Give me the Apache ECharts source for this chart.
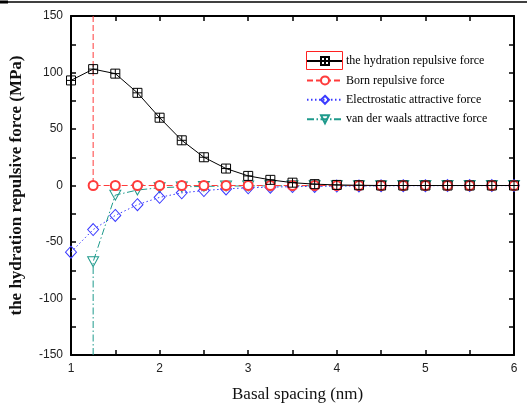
<!DOCTYPE html>
<html>
<head>
<meta charset="utf-8">
<script src="https://cdn.jsdelivr.net/npm/echarts@6/dist/echarts.min.js"></script>
<style>
  html, body { margin: 0; padding: 0; background: #fff; }
  #chart { width: 527px; height: 405px; }
</style>
</head>
<body>
<div id="chart"></div>
<script>
// Basal spacing (nm)
const spacing = [1, 1.25, 1.5, 1.75, 2, 2.25, 2.5, 2.75, 3, 3.25, 3.5, 3.75, 4, 4.25, 4.5, 4.75, 5, 5.25, 5.5, 5.75, 6];

// Forces (MPa); null where a curve has no value
const hydration = [93, 103, 99, 82, 60, 40, 25, 15, 8.5, 5, 2.5, 1.2, 0.5, 0.2, 0, 0, 0, 0, 0, 0, 0];
const born = [null, 0, 0, 0, 0, 0, 0, 0, 0, 0, 0, 0, 0, 0, 0, 0, 0, 0, 0, 0, 0];
const electrostatic = [-59, -39, -26.5, -17, -10.5, -6.5, -4.5, -3, -2, -1.5, -1, -0.8, -0.5, -0.4, -0.3, -0.2, -0.2, -0.1, -0.1, -0.1, -0.1];
const vanDerWaals = [null, -67.5, -8.5, -4, -2, -1.2, -0.8, -0.5, -0.4, -0.3, -0.2, -0.2, -0.1, -0.1, -0.1, 0, 0, 0, 0, 0, 0];

// Divergent branches at the contact spacing (run off the plotting range)
const bornBranch = [1.25, 150];
const vdwBranch = [1.25, -150];

// Axis ticks
const xTicks = { min: 1, max: 6, step: 0.5, labelStep: 1 };
const yTicks = { min: -150, max: 150, step: 25, labelStep: 50 };

function pairs(ys) {
  const out = [];
  ys.forEach((y, i) => { if (y !== null) out.push([spacing[i], y]); });
  return out;
}

const serif = 'Liberation Serif, Times New Roman, serif';
const sans = 'Liberation Sans, Arial, sans-serif';

const squarePlus = 'path://M0,0H10V10H0Z M5,0V10 M0,5H10';

const chart = echarts.init(document.getElementById('chart'), null, { renderer: 'canvas' });

const axisCommon = {
  axisLine: { show: true, onZero: false, lineStyle: { color: '#000', width: 2 } },
  axisTick: { show: true, inside: true, length: 5, lineStyle: { color: '#000', width: 1.5 } },
  splitLine: { show: false }
};

function labelEvery(step) {
  return v => (Math.abs(v / step - Math.round(v / step)) < 1e-9 ? String(v) : '');
}

chart.setOption({
  animation: false,
  backgroundColor: '#fff',
  grid: { left: 67, right: 13, top: 16, bottom: 50, containLabel: false },
  xAxis: [
    Object.assign({}, axisCommon, {
      type: 'value', position: 'bottom',
      min: xTicks.min, max: xTicks.max, interval: xTicks.step,
      axisLabel: { margin: 8, color: '#222', fontFamily: sans, fontSize: 12, formatter: labelEvery(xTicks.labelStep) }
    }),
    Object.assign({}, axisCommon, {
      type: 'value', position: 'top',
      min: xTicks.min, max: xTicks.max, interval: xTicks.step,
      axisLabel: { show: false }
    })
  ],
  yAxis: [
    Object.assign({}, axisCommon, {
      type: 'value', position: 'left',
      min: yTicks.min, max: yTicks.max, interval: yTicks.step,
      axisLabel: { margin: 8, color: '#222', fontFamily: sans, fontSize: 12, formatter: labelEvery(yTicks.labelStep) },
      name: 'the hydration repulsive force (MPa)',
      nameLocation: 'middle', nameGap: 46,
      nameTextStyle: { fontFamily: serif, fontSize: 17, fontWeight: 'bold', color: '#111' }
    }),
    Object.assign({}, axisCommon, {
      type: 'value', position: 'right',
      min: yTicks.min, max: yTicks.max, interval: yTicks.step,
      axisLabel: { show: false }
    })
  ],
  legend: {
    orient: 'vertical', left: 306, top: 55, padding: 0,
    itemWidth: 36, itemHeight: 10, itemGap: 7.4,
    textStyle: { fontFamily: serif, fontSize: 12, color: '#000', padding: [0, 0, 0, -2] },
    data: ['the hydration repulsive force', 'Born repulsive force', 'Electrostatic attractive force', 'van der waals attractive force']
  },
  series: [
    {
      name: 'the hydration repulsive force', type: 'line',
      data: pairs(hydration),
      symbol: squarePlus, symbolSize: 9,
      lineStyle: { color: '#000', width: 1 },
      itemStyle: { color: 'rgba(255,255,255,0)', borderColor: '#000', borderWidth: 1 },
      z: 4
    },
    {
      name: 'Born repulsive force', type: 'line',
      data: [{ value: bornBranch, symbol: 'none' }].concat(pairs(born)),
      symbol: 'emptyCircle', symbolSize: 9,
      lineStyle: { color: '#ff3b3b', width: 1, type: [6, 3] },
      itemStyle: { color: '#ff3b3b', borderColor: '#ff3b3b', borderWidth: 1 },
      z: 3
    },
    {
      name: 'Electrostatic attractive force', type: 'line',
      data: pairs(electrostatic),
      symbol: 'diamond', symbolSize: [11, 12],
      lineStyle: { color: '#3b3bff', width: 1, type: [1.5, 2.5] },
      itemStyle: { color: 'rgba(255,255,255,0)', borderColor: '#3b3bff', borderWidth: 1 },
      z: 2
    },
    {
      name: 'van der waals attractive force', type: 'line',
      data: [{ value: vdwBranch, symbol: 'none' }].concat(pairs(vanDerWaals)),
      symbol: 'triangle', symbolRotate: 180, symbolSize: [11, 10],
      lineStyle: { color: '#1f9a8c', width: 1, type: [7, 2.5, 1.5, 2.5] },
      itemStyle: { color: 'rgba(255,255,255,0)', borderColor: '#1f9a8c', borderWidth: 1 },
      z: 1
    }
  ],
  graphic: [
    { type: 'line', shape: { x1: 0, y1: 2, x2: 527, y2: 2 }, style: { stroke: '#000', lineWidth: 1.5 } },
    { type: 'line', shape: { x1: 0, y1: 2, x2: 8, y2: 2 }, style: { stroke: '#000', lineWidth: 3 } },
    { type: 'rect', shape: { x: 306.5, y: 51.5, width: 36, height: 18 }, style: { fill: 'none', stroke: '#ff2020', lineWidth: 1 }, z: 100 },
    {
      type: 'text', left: 232, top: 386,
      style: { text: 'Basal spacing (nm)', font: '17px ' + serif, fill: '#111' }
    }
  ]
});
</script>
</body>
</html>
